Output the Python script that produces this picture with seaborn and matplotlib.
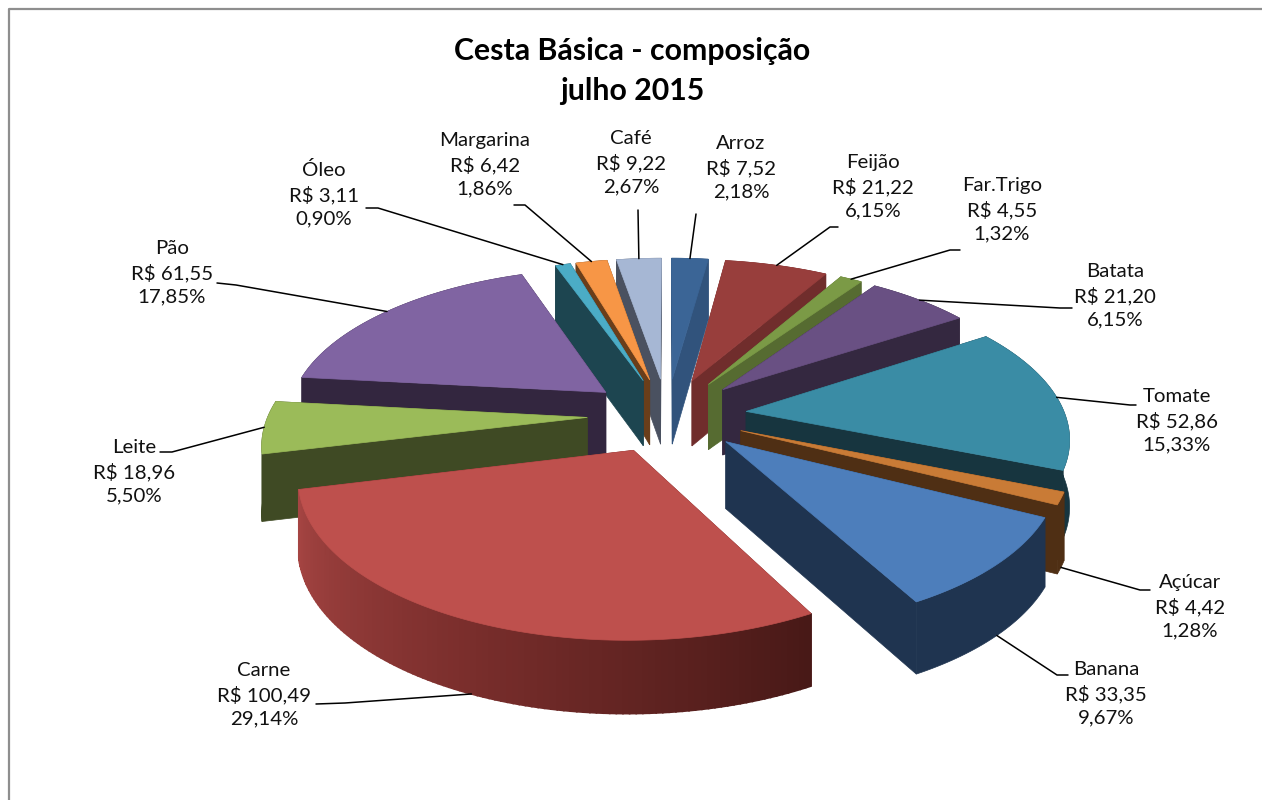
import numpy as np
import matplotlib
matplotlib.use("Agg")
import matplotlib.pyplot as plt
from matplotlib.colors import to_rgb
from matplotlib.patches import Polygon
import seaborn as sns

# ---- data ----
categories = ["Arroz", "Feijão", "Far.Trigo", "Batata", "Tomate", "Açúcar", "Banana",
              "Carne", "Leite", "Pão", "Óleo", "Margarina", "Café"]
values = [7.52, 21.22, 4.55, 21.20, 52.86, 4.42, 33.35, 100.49, 18.96, 61.55, 3.11, 6.42, 9.22]
title_lines = ["Cesta Básica - composição", "julho 2015"]

# ---- styles ----
top_colors = ["#3B6596", "#983E3C", "#7B9A46", "#695083", "#3A8CA5", "#C97B36", "#4D7EBB",
              "#BE504D", "#9BBB59", "#8064A2", "#4BACC6", "#F79646", "#A6B7D4"]
side_colors = ["#31537C", "#702D2C", "#566B31", "#342840", "#17353F", "#4F2F14", "#1F3450",
               "#6A2624", "#3F4A24", "#33263F", "#1D4550", "#6A3E1A", "#4A5160"]
gradient_slice = "Carne"
gradient_stops = ["#A84644", "#7A2E2C", "#481917"]

# label layout, in pixels of the 1262x800 picture
label_pos = [(741, 168), (873, 187), (1002, 210), (1115, 296), (1177, 421), (1190, 607),
             (1106, 694), (264, 695), (134, 472), (172, 273), (324, 194), (485, 165), (631, 163)]
leader_path = [[(696, 214)], [(830, 227), (838, 227)], [(950, 250), (960, 250)],
               [(1060, 308), (1072, 308)], [(1130, 405), (1136, 405)], [(1140, 590), (1150, 590)],
               [(1057, 675), (1068, 675)], [(345, 703), (316, 704)], [(172, 452), (160, 452)],
               [(236, 285), (217, 283)], [(378, 208), (366, 208)], [(525, 205), (514, 205)],
               [(638, 210)]]

# projection of the tilted, exploded pie
CX, CY = 667, 415
DIST, FX, FY, FZ = 6.6, 2105, 985, 170
EXPLODE = 0.25


def project(x, y, z=0.0):
    s = DIST + y
    return CX + FX * x / s, CY - FY * y / s + FZ * z / np.sqrt(s)


sns.set_theme(style="white")
plt.rcParams["font.family"] = ["Lato", "DejaVu Sans"]
top_pal = sns.color_palette(top_colors)
side_pal = sns.color_palette(side_colors)

fig = plt.figure(figsize=(12.62, 8), dpi=100, facecolor="white")
ax = fig.add_axes([0, 0, 1, 1])
ax.set_xlim(0, 1262)
ax.set_ylim(800, 0)
ax.axis("off")

ax.plot([9, 9, 1262], [800, 8.5, 8.5], color="#8E8E8E", lw=1.6, solid_capstyle="butt", zorder=1)

vals = np.array(values)
total = vals.sum()
edges = np.concatenate([[0], np.cumsum(vals)]) / total * 2 * np.pi
mids = (edges[:-1] + edges[1:]) / 2
order = np.argsort(-np.cos(mids))


def face(pts, color, z, lw=0.5):
    ax.add_patch(Polygon(pts, closed=True, facecolor=color, edgecolor=color, lw=lw, zorder=z))


z = 2.0
for i in order:
    a0, a1, m = edges[i], edges[i + 1], mids[i]
    ox, oy = EXPLODE * np.sin(m), EXPLODE * np.cos(m)
    th = np.linspace(a0, a1, max(8, int((a1 - a0) * 60)))
    rx, ry = ox + np.sin(th), oy + np.cos(th)
    for a in (a0, a1):
        ex, ey = ox + np.sin(a), oy + np.cos(a)
        face([project(ox, oy), project(ex, ey), project(ex, ey, 1), project(ox, oy, 1)], side_pal[i], z)
        z += 0.01
    if categories[i] == gradient_slice:
        stops = np.array([to_rgb(c) for c in gradient_stops])
        for k in range(len(th) - 2, -1, -1):
            t = 1 - (th[k] - a0) / (a1 - a0)
            col = tuple(np.interp(t, [0, .5, 1], stops[:, c]) for c in range(3))
            face([project(rx[k], ry[k]), project(rx[k + 1], ry[k + 1]),
                  project(rx[k + 1], ry[k + 1], 1), project(rx[k], ry[k], 1)], col, z, lw=1.2)
            z += 0.001
    else:
        top = [project(a, b) for a, b in zip(rx, ry)]
        low = [project(a, b, 1) for a, b in zip(rx, ry)]
        face(top + low[::-1], side_pal[i], z)
        z += 0.01
    face([project(ox, oy)] + [project(a, b) for a, b in zip(rx, ry)], top_pal[i], z)
    z += 0.01

for i, name in enumerate(categories):
    m = mids[i]
    front = np.cos(m) < -0.3
    anchor = project(EXPLODE * np.sin(m) + np.sin(m), EXPLODE * np.cos(m) + np.cos(m), 1 if front else 0)
    path = [anchor] + leader_path[i]
    ax.plot([p[0] for p in path], [p[1] for p in path], color="black", lw=1.1, zorder=50)
    money = f"R$ {values[i]:.2f}".replace(".", ",")
    pct = f"{values[i] / total * 100:.2f}%".replace(".", ",")
    lx, ly = label_pos[i]
    ax.text(lx, ly, f"{name}\n{money}\n{pct}", ha="center", va="center", fontsize=14.7,
            color="#111111", linespacing=1.42, zorder=60)

ax.text(632, 71, "\n".join(title_lines), ha="center", va="center", fontsize=21.8,
        fontweight="bold", color="black", linespacing=1.5, zorder=60)

fig.savefig("out.png", dpi=100, facecolor="white")
